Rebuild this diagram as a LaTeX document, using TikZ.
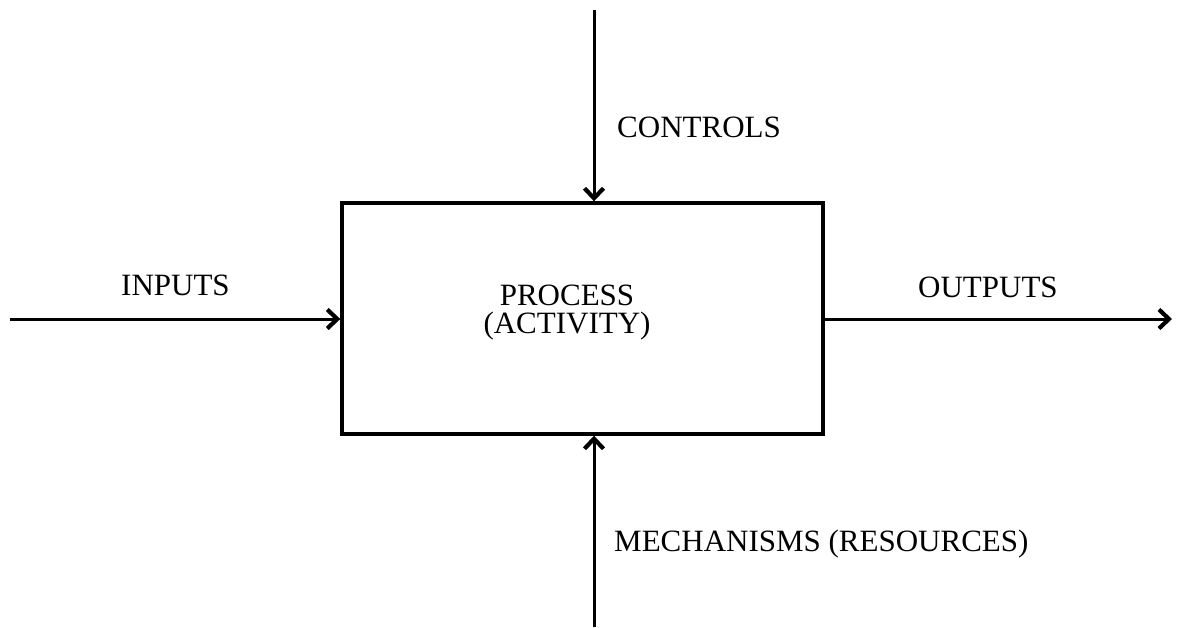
\documentclass[tikz,border=0pt]{standalone}
\usepackage{fontspec}
\setmainfont{Liberation Serif}
\usepackage{tikz}
\usetikzlibrary{positioning,arrows.meta}

\begin{document}
\begin{tikzpicture}[x=1pt,y=1pt,
  lbl/.style={font=\fontsize{31}{28}\selectfont,inner sep=0pt},
  flow/.style={line width=3pt,-{Straight Barb[length=10pt,width=19pt,line width=4.2pt]}}]
\tikzstyle{every node}+=[inner sep=0pt]
\useasboundingbox (0,0) rectangle (1177,-627);
% the activity box
\node [draw,line width=3.4pt,minimum width=481,minimum height=231] (proc) at (582.5,-318.5) {};
\node [lbl,align=center] (proclbl) at (567,-313) {PROCESS\\(ACTIVITY)};
% free ends
\coordinate (in) at (10,-319);
\coordinate (out) at (1172,-319);
\coordinate (ctl) at (594,-10);
\coordinate (mech) at (594,-627);
\draw [flow] (in) -- (in -| proc.west);
\draw [flow] (out -| proc.east) -- (out);
\draw [flow] (ctl) -- (ctl |- proc.north);
\draw [flow] (mech) -- (mech |- proc.south);
% labels
\node [lbl,anchor=base west] (inlbl) at (121,-295) {INPUTS};
\node [lbl,anchor=base west] (outlbl) at (918,-297) {OUTPUTS};
\node [lbl,anchor=base west] (ctllbl) at (617,-137) {CONTROLS};
\node [lbl,anchor=base west] (mechlbl) at (614,-551) {MECHANISMS (RESOURCES)};
\end{tikzpicture}
\end{document}
